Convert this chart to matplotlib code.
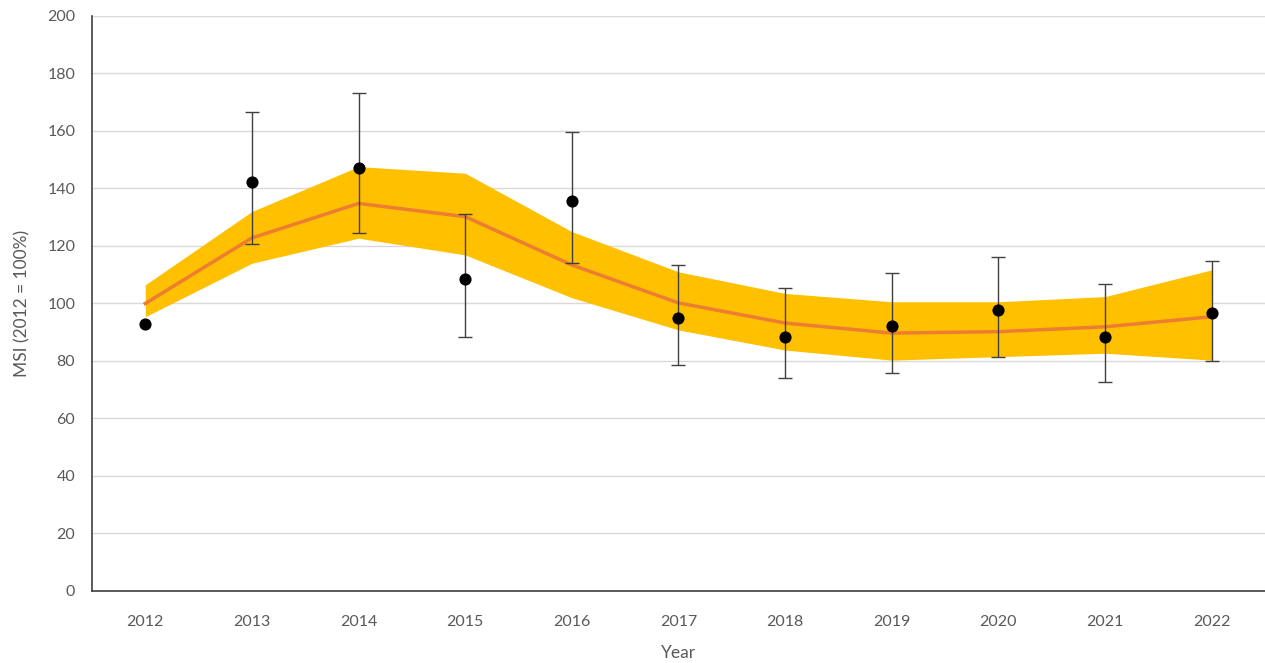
import numpy as np
import matplotlib.pyplot as plt

# ==========================
# DATA
# ==========================
years = ["2012", "2013", "2014", "2015", "2016", "2017",
         "2018", "2019", "2020", "2021", "2022"]

trend = [100, 122.8, 134.8, 130.2, 113.4, 100.2, 93.2, 89.7, 90.2, 91.9, 95.4]
band_upper = [106.5, 132, 147.6, 145.3, 125, 111, 103.5, 100.6, 100.6, 102.4, 111.7]
band_lower = [95.4, 114, 122.7, 116.9, 102, 90.8, 83.8, 80.3, 81.5, 82.7, 80.3]

msi = [92.9, 142.2, 147.2, 108.4, 135.7, 95.1, 88.5, 92.3, 97.7, 88.5, 96.6]
err_upper = [np.nan, 166.6, 173.2, 131.1, 159.7, 113.4, 105.3, 110.5, 116.1, 106.8, 114.9]
err_lower = [np.nan, 120.6, 124.6, 88.5, 114.0, 78.6, 74.0, 75.7, 81.3, 72.8, 80.1]

# ==========================
# PLOT
# ==========================
plt.rcParams['font.family'] = ['Lato', 'DejaVu Sans']

fig = plt.figure(figsize=(12.65, 6.63), dpi=100)
ax = fig.add_axes([0.0727, 0.1086, 0.9273, 0.8673])

x = np.arange(len(years))

ax.fill_between(x, band_lower, band_upper, color='#FFC000', linewidth=0, zorder=2)
ax.plot(x, trend, color='#ED7D31', linewidth=2.5, zorder=3)

msi_arr = np.array(msi)
yerr = np.vstack([msi_arr - np.array(err_lower), np.array(err_upper) - msi_arr])
ax.errorbar(x, msi, yerr=yerr, fmt='none', ecolor='#404040',
            elinewidth=1, capsize=5, capthick=1, zorder=4)
ax.scatter(x, msi, color='black', s=60, zorder=5)

ax.set_xlim(-0.5, len(years) - 0.5)
ax.set_ylim(0, 200)
ax.set_yticks(np.arange(0, 201, 20))
ax.set_xticks(x)
ax.set_xticklabels(years)

ax.grid(axis='y', color='#D9D9D9', linewidth=1, zorder=0)
ax.set_axisbelow(True)

for side in ['top', 'right']:
    ax.spines[side].set_visible(False)
for side in ['left', 'bottom']:
    ax.spines[side].set_color('#404040')
    ax.spines[side].set_linewidth(1.2)

ax.tick_params(length=0, labelsize=11.5, colors='#595959')
ax.tick_params(axis='x', pad=17)
ax.tick_params(axis='y', pad=12)

ax.set_xlabel("Year", fontsize=12.5, color='#595959', labelpad=12)
ax.set_ylabel("MSI (2012 = 100%)", fontsize=12.5, color='#595959', labelpad=12)

fig.savefig("out.png", dpi=100)
